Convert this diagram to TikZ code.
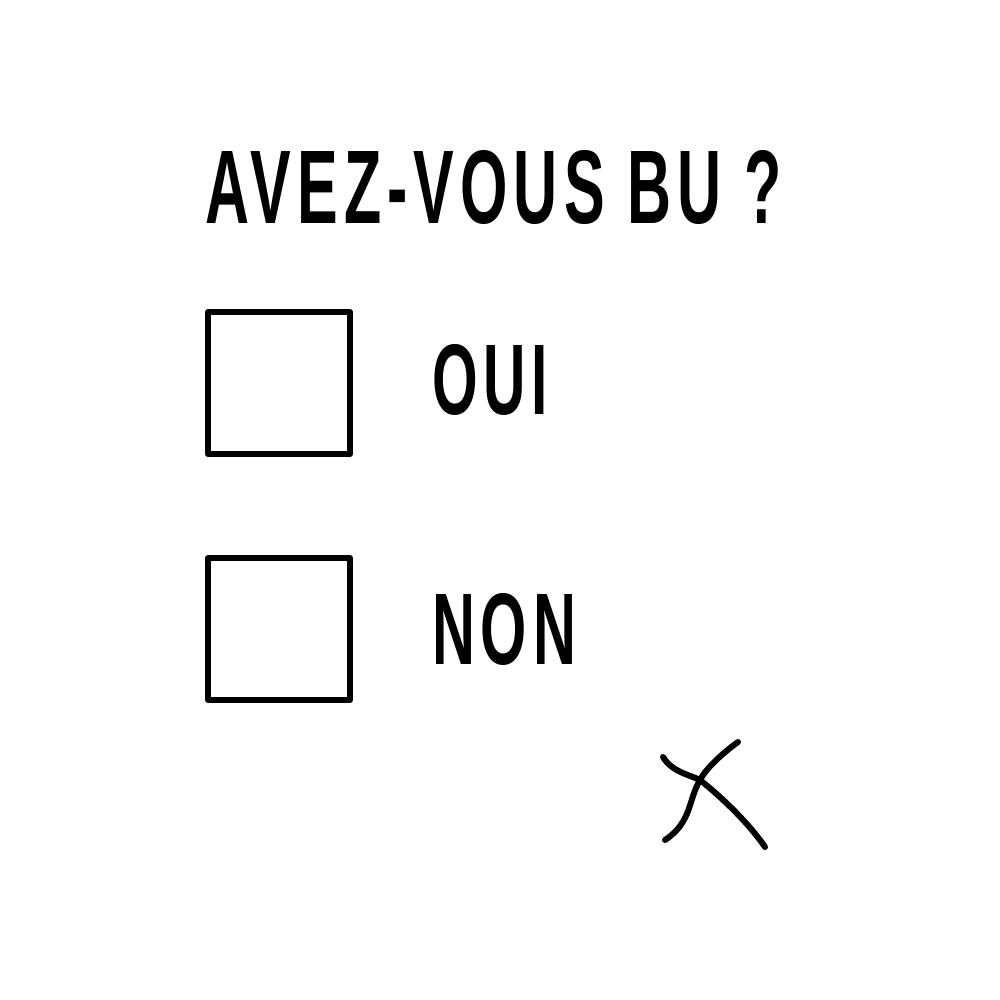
\documentclass[tikz,border=0pt]{standalone}
\usepackage{fontspec}
\setmainfont{Liberation Sans}
\newfontfamily\spaced[LetterSpace=10]{Liberation Sans}
\usepackage{graphicx}
\begin{document}
\begin{tikzpicture}[x=1pt,y=-1pt,
  box/.style={draw=black,line width=6pt,line join=round},
  lbl/.style={anchor=south west,inner sep=0pt,outer sep=0pt},
  pen/.style={draw=black,line width=6pt,line cap=round,line join=round}]
\useasboundingbox[fill=white] (0,0) rectangle (1000,1000);
\node[lbl] (title) at (205,225) {\resizebox{577pt}{73pt}{\spaced\bfseries AVEZ-VOUS BU ?}};
\node[box,minimum width=142pt,minimum height=142pt,inner sep=0pt] (b1) at (279,383) {};
\node[box,minimum width=142pt,minimum height=142pt,inner sep=0pt] (b2) at (279,629) {};
\node[lbl] (oui) at (432,415) {\resizebox{116pt}{70pt}{\spaced\bfseries OUI}};
\node[lbl] (non) at (432,665) {\resizebox{144pt}{71pt}{\spaced\bfseries NON}};
\coordinate (xa1) at (663,757);
\coordinate (xa2) at (765,847);
\coordinate (xb1) at (738,742);
\coordinate (xb2) at (665,840);
\draw[pen] (xa1) .. controls (672,772) and (690,775) .. (700,780)
  .. controls (725,800) and (750,825) .. (xa2);
\draw[pen] (xb1) .. controls (720,755) and (705,770) .. (700,780)
  .. controls (688,800) and (692,822) .. (xb2);
\end{tikzpicture}
\end{document}
